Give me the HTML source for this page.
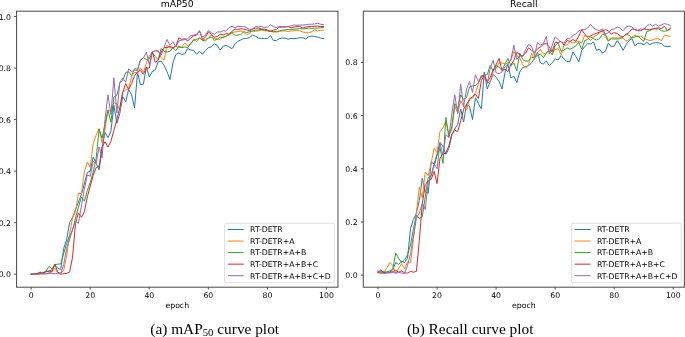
<!DOCTYPE html>
<html><head><meta charset="utf-8"><title>curves</title>
<style>
html,body{margin:0;padding:0;background:#fff;}
body{width:685px;height:337px;position:relative;overflow:hidden;}
.cap{position:absolute;font-family:"Liberation Serif","DejaVu Serif",serif;font-size:15.35px;color:#000;white-space:nowrap;line-height:1;}
.cap sub{font-size:0.7em;vertical-align:baseline;position:relative;top:0.2em;}
</style></head><body>
<svg width="685" height="337" viewBox="0 0 685 337" style="position:absolute;left:0;top:0;will-change:transform">
<clipPath id="c16"><rect x="16.55" y="11.2" width="321.4" height="276.0"/></clipPath>
<g clip-path="url(#c16)" fill="none" stroke-width="1.0" stroke-linejoin="round" stroke-linecap="square">
<polyline stroke="#1f77b4" points="31.20,274.20 34.15,274.20 37.11,273.94 40.06,273.43 43.01,273.17 45.96,271.88 48.92,270.85 51.87,270.08 54.82,265.18 57.78,268.27 60.73,269.56 63.68,248.43 66.64,239.67 69.59,222.66 72.54,217.51 75.49,209.77 78.45,202.04 81.40,194.31 84.35,184.00 87.31,172.41 90.26,171.12 93.21,156.95 96.17,163.39 99.12,169.83 102.07,147.93 105.03,132.46 107.98,137.62 110.93,131.18 113.88,105.41 116.84,123.19 119.79,113.65 122.74,96.64 125.70,101.80 128.65,89.43 131.60,94.84 134.55,107.98 137.51,72.42 140.46,84.79 143.41,84.02 146.37,67.01 149.32,77.06 152.27,71.65 155.23,69.84 158.18,61.86 161.13,61.08 164.08,65.46 167.04,71.65 169.99,79.64 172.94,62.89 175.90,54.38 178.85,53.09 181.80,54.38 184.76,53.87 187.71,48.45 190.66,50.00 193.61,50.26 196.57,54.38 199.52,51.29 202.47,54.38 205.43,50.52 208.38,47.68 211.33,46.91 214.29,43.82 217.24,45.36 220.19,50.00 223.14,46.14 226.10,45.36 229.05,46.91 232.00,48.71 234.96,44.07 237.91,41.24 240.86,39.95 243.82,38.40 246.77,38.40 249.72,37.37 252.67,35.05 255.63,36.34 258.58,38.15 261.53,38.40 264.49,38.66 267.44,38.40 270.39,35.57 273.35,40.47 276.30,40.47 279.25,38.66 282.20,38.15 285.16,38.15 288.11,39.18 291.06,38.40 294.02,38.66 296.97,38.40 299.92,37.63 302.88,37.89 305.83,38.92 308.78,36.60 311.73,36.09 314.69,36.60 317.64,37.12 320.59,38.15 323.55,38.66"/>
<polyline stroke="#ff7f0e" points="31.20,274.20 34.15,274.20 37.11,274.20 40.06,273.94 43.01,273.94 45.96,273.68 48.92,273.17 51.87,271.88 54.82,268.27 57.78,272.65 60.73,272.65 63.68,270.46 66.64,256.16 69.59,234.26 72.54,218.02 75.49,211.84 78.45,193.02 81.40,194.06 84.35,171.89 87.31,162.10 90.26,167.25 93.21,143.55 96.17,135.04 99.12,128.34 102.07,142.77 105.03,129.89 107.98,109.79 110.93,111.85 113.88,102.83 116.84,103.60 119.79,109.79 122.74,92.01 125.70,90.20 128.65,88.66 131.60,76.03 134.55,72.42 137.51,73.19 140.46,68.04 143.41,72.42 146.37,62.89 149.32,55.93 152.27,52.06 155.23,51.03 158.18,50.52 161.13,57.73 164.08,60.31 167.04,45.36 169.99,47.68 172.94,48.45 175.90,46.14 178.85,47.68 181.80,46.91 184.76,43.04 187.71,46.14 190.66,43.82 193.61,39.44 196.57,41.75 199.52,37.89 202.47,40.21 205.43,39.44 208.38,37.89 211.33,35.05 214.29,40.98 217.24,38.66 220.19,39.44 223.14,36.60 226.10,36.60 229.05,34.28 232.00,32.48 234.96,31.96 237.91,31.70 240.86,30.93 243.82,32.48 246.77,34.80 249.72,33.25 252.67,30.93 255.63,31.45 258.58,30.67 261.53,30.16 264.49,30.67 267.44,30.93 270.39,31.19 273.35,31.96 276.30,32.22 279.25,31.45 282.20,30.93 285.16,30.93 288.11,31.70 291.06,30.93 294.02,30.67 296.97,30.16 299.92,30.93 302.88,31.96 305.83,32.74 308.78,32.74 311.73,31.70 314.69,29.90 317.64,30.93 320.59,30.16 323.55,30.16"/>
<polyline stroke="#2ca02c" points="31.20,274.20 34.15,274.20 37.11,273.94 40.06,273.43 43.01,272.65 45.96,271.37 48.92,266.47 51.87,268.79 54.82,264.67 57.78,264.15 60.73,263.89 63.68,253.58 66.64,243.28 69.59,236.06 72.54,230.39 75.49,218.02 78.45,207.20 81.40,196.89 84.35,201.27 87.31,190.45 90.26,182.46 93.21,171.89 96.17,158.23 99.12,129.37 102.07,138.13 105.03,123.45 107.98,110.30 110.93,122.16 113.88,97.16 116.84,95.36 119.79,83.50 122.74,80.41 125.70,72.42 128.65,71.65 131.60,75.77 134.55,68.81 137.51,69.33 140.46,60.31 143.41,57.73 146.37,59.54 149.32,58.76 152.27,52.84 155.23,56.44 158.18,59.79 161.13,48.45 164.08,51.29 167.04,52.06 169.99,51.29 172.94,47.68 175.90,50.52 178.85,46.14 181.80,47.68 184.76,46.91 187.71,47.68 190.66,43.82 193.61,40.21 196.57,39.44 199.52,37.89 202.47,40.21 205.43,40.98 208.38,37.89 211.33,37.12 214.29,38.66 217.24,39.44 220.19,37.12 223.14,37.89 226.10,35.83 229.05,35.05 232.00,32.74 234.96,35.31 237.91,35.05 240.86,34.54 243.82,31.70 246.77,32.48 249.72,31.70 252.67,30.93 255.63,30.16 258.58,29.90 261.53,29.39 264.49,30.16 267.44,30.67 270.39,31.19 273.35,31.70 276.30,31.45 279.25,30.93 282.20,30.16 285.16,29.90 288.11,29.39 291.06,29.39 294.02,29.13 296.97,28.87 299.92,28.61 302.88,28.87 305.83,28.61 308.78,28.10 311.73,28.35 314.69,28.10 317.64,28.10 320.59,27.84 323.55,27.32"/>
<polyline stroke="#d62728" points="31.20,274.20 34.15,274.20 37.11,273.43 40.06,272.14 43.01,273.43 45.96,270.85 48.92,271.88 51.87,271.37 54.82,264.15 57.78,272.14 60.73,274.20 63.68,273.68 66.64,273.43 69.59,272.14 72.54,257.45 75.49,223.43 78.45,212.87 81.40,217.25 84.35,211.84 87.31,196.89 90.26,186.07 93.21,175.24 96.17,167.51 99.12,166.48 102.07,147.15 105.03,141.74 107.98,147.15 110.93,141.23 113.88,130.40 116.84,119.58 119.79,107.73 122.74,92.52 125.70,83.50 128.65,89.43 131.60,83.50 134.55,75.77 137.51,71.65 140.46,70.62 143.41,74.22 146.37,68.04 149.32,68.04 152.27,51.55 155.23,62.37 158.18,60.31 161.13,52.06 164.08,47.42 167.04,47.68 169.99,46.39 172.94,47.68 175.90,46.14 178.85,37.89 181.80,39.44 184.76,38.66 187.71,40.98 190.66,37.89 193.61,35.83 196.57,35.05 199.52,30.67 202.47,39.44 205.43,37.12 208.38,31.96 211.33,34.28 214.29,37.12 217.24,36.60 220.19,34.28 223.14,35.05 226.10,33.51 229.05,34.28 232.00,31.19 234.96,29.13 237.91,29.39 240.86,28.87 243.82,29.13 246.77,29.90 249.72,30.67 252.67,29.13 255.63,28.10 258.58,28.10 261.53,28.87 264.49,29.13 267.44,30.16 270.39,31.19 273.35,30.16 276.30,29.39 279.25,27.32 282.20,27.07 285.16,27.07 288.11,26.55 291.06,27.84 294.02,27.07 296.97,26.55 299.92,26.55 302.88,28.10 305.83,27.07 308.78,26.55 311.73,26.55 314.69,26.29 317.64,26.03 320.59,26.55 323.55,26.55"/>
<polyline stroke="#9467bd" points="31.20,274.20 34.15,274.20 37.11,274.20 40.06,273.94 43.01,273.68 45.96,273.68 48.92,273.43 51.87,273.43 54.82,273.68 57.78,273.68 60.73,273.68 63.68,264.67 66.64,248.43 69.59,239.67 72.54,229.10 75.49,221.37 78.45,223.43 81.40,205.91 84.35,189.16 87.31,174.99 90.26,176.27 93.21,161.33 96.17,163.39 99.12,146.90 102.07,157.72 105.03,119.58 107.98,94.84 110.93,114.43 113.88,77.83 116.84,113.14 119.79,82.21 122.74,78.35 125.70,82.21 128.65,68.81 131.60,71.65 134.55,69.84 137.51,70.62 140.46,59.54 143.41,57.99 146.37,52.06 149.32,64.69 152.27,52.06 155.23,50.52 158.18,51.29 161.13,55.16 164.08,47.68 167.04,39.44 169.99,45.36 172.94,41.75 175.90,46.91 178.85,40.98 181.80,40.21 184.76,39.44 187.71,38.66 190.66,35.83 193.61,35.05 196.57,34.28 199.52,31.19 202.47,37.12 205.43,35.05 208.38,30.67 211.33,32.74 214.29,34.28 217.24,31.96 220.19,31.96 223.14,30.67 226.10,31.19 229.05,27.58 232.00,26.29 234.96,27.84 237.91,26.29 240.86,26.55 243.82,26.55 246.77,27.58 249.72,29.90 252.67,28.61 255.63,26.55 258.58,26.81 261.53,26.55 264.49,27.32 267.44,27.07 270.39,24.75 273.35,26.55 276.30,27.58 279.25,26.55 282.20,26.81 285.16,26.55 288.11,26.55 291.06,25.78 294.02,25.00 296.97,25.26 299.92,25.00 302.88,25.00 305.83,24.75 308.78,24.23 311.73,24.23 314.69,23.97 317.64,23.20 320.59,24.23 323.55,24.75"/>
</g>
<g stroke="#505050" stroke-width="1.05">
<line x1="31.20" y1="287.2" x2="31.20" y2="289.59999999999997"/>
<line x1="90.26" y1="287.2" x2="90.26" y2="289.59999999999997"/>
<line x1="149.32" y1="287.2" x2="149.32" y2="289.59999999999997"/>
<line x1="208.38" y1="287.2" x2="208.38" y2="289.59999999999997"/>
<line x1="267.44" y1="287.2" x2="267.44" y2="289.59999999999997"/>
<line x1="326.50" y1="287.2" x2="326.50" y2="289.59999999999997"/>
<line x1="16.55" y1="274.20" x2="14.15" y2="274.20"/>
<line x1="16.55" y1="222.66" x2="14.15" y2="222.66"/>
<line x1="16.55" y1="171.12" x2="14.15" y2="171.12"/>
<line x1="16.55" y1="119.58" x2="14.15" y2="119.58"/>
<line x1="16.55" y1="68.04" x2="14.15" y2="68.04"/>
<line x1="16.55" y1="16.50" x2="14.15" y2="16.50"/>
</g>
<rect x="16.55" y="11.2" width="321.4" height="276.0" fill="none" stroke="#505050" stroke-width="1.05"/>
<g font-family="DejaVu Sans, Liberation Sans, sans-serif" font-size="7.76" fill="#000">
<text x="31.20" y="297.90" text-anchor="middle">0</text>
<text x="90.26" y="297.90" text-anchor="middle">20</text>
<text x="149.32" y="297.90" text-anchor="middle">40</text>
<text x="208.38" y="297.90" text-anchor="middle">60</text>
<text x="267.44" y="297.90" text-anchor="middle">80</text>
<text x="326.50" y="297.90" text-anchor="middle">100</text>
<text x="10.95" y="277.20" text-anchor="end">0.0</text>
<text x="10.95" y="225.66" text-anchor="end">0.2</text>
<text x="10.95" y="174.12" text-anchor="end">0.4</text>
<text x="10.95" y="122.58" text-anchor="end">0.6</text>
<text x="10.95" y="71.04" text-anchor="end">0.8</text>
<text x="10.95" y="19.50" text-anchor="end">1.0</text>
<text x="177.25" y="308.00" text-anchor="middle">epoch</text>
<text x="177.25" y="6.85" text-anchor="middle" font-size="9.31">mAP50</text>
<rect x="224.6" y="223.2" width="109.8" height="59.5" rx="1.6" fill="#fff" fill-opacity="0.8" stroke="#ccc" stroke-opacity="0.8" stroke-width="0.8"/>
<line x1="227.80" y1="229.50" x2="243.70" y2="229.50" stroke="#1f77b4" stroke-width="1.0"/>
<text x="250.10" y="232.30">RT-DETR</text>
<line x1="227.80" y1="241.05" x2="243.70" y2="241.05" stroke="#ff7f0e" stroke-width="1.0"/>
<text x="250.10" y="243.85">RT-DETR+A</text>
<line x1="227.80" y1="252.60" x2="243.70" y2="252.60" stroke="#2ca02c" stroke-width="1.0"/>
<text x="250.10" y="255.40">RT-DETR+A+B</text>
<line x1="227.80" y1="264.15" x2="243.70" y2="264.15" stroke="#d62728" stroke-width="1.0"/>
<text x="250.10" y="266.95">RT-DETR+A+B+C</text>
<line x1="227.80" y1="275.70" x2="243.70" y2="275.70" stroke="#9467bd" stroke-width="1.0"/>
<text x="250.10" y="278.50">RT-DETR+A+B+C+D</text>
</g>
<clipPath id="c363"><rect x="363.3" y="11.2" width="321.09999999999997" height="276.0"/></clipPath>
<g clip-path="url(#c363)" fill="none" stroke-width="1.0" stroke-linejoin="round" stroke-linecap="square">
<polyline stroke="#1f77b4" points="378.00,271.38 380.95,271.91 383.91,272.44 386.86,272.44 389.81,271.91 392.76,269.78 395.72,262.60 398.67,264.46 401.62,261.01 404.58,262.60 407.53,258.35 410.48,228.83 413.44,219.26 416.39,213.15 419.34,200.65 422.30,178.31 425.25,191.61 428.20,193.47 431.15,162.09 434.11,163.95 437.06,154.12 440.01,142.42 442.97,146.67 445.92,154.38 448.87,148.53 451.82,134.97 454.78,128.86 457.73,124.33 460.68,108.91 463.64,121.94 466.59,104.13 469.54,106.52 472.50,119.55 475.45,97.74 478.40,103.59 481.36,108.91 484.31,71.95 487.26,88.97 490.21,81.52 493.17,74.61 496.12,77.27 499.07,81.52 502.03,88.97 504.98,72.75 507.93,63.98 510.88,78.07 513.84,76.21 516.79,82.59 519.74,71.95 522.70,67.43 525.65,66.63 528.60,65.57 531.56,62.91 534.51,58.39 537.46,52.28 540.41,62.91 543.37,63.98 546.32,61.05 549.27,65.57 552.23,62.91 555.18,58.92 558.13,59.99 561.09,55.47 564.04,58.92 566.99,61.58 569.94,61.58 572.90,52.01 575.85,56.53 578.80,61.85 581.76,50.41 584.71,46.69 587.66,43.77 590.62,44.03 593.57,41.91 596.52,50.41 599.48,49.09 602.43,53.07 605.38,51.21 608.33,43.24 611.29,46.69 614.24,45.89 617.19,40.58 620.15,44.83 623.10,50.41 626.05,44.83 629.00,40.58 631.96,38.71 634.91,45.89 637.86,43.24 640.82,43.24 643.77,44.83 646.72,42.17 649.68,44.83 652.63,43.24 655.58,42.70 658.53,42.70 661.49,43.77 664.44,46.16 667.39,46.69 670.35,46.16"/>
<polyline stroke="#ff7f0e" points="378.00,272.44 380.95,273.77 383.91,271.91 386.86,268.19 389.81,262.34 392.76,265.53 395.72,273.50 398.67,268.19 401.62,263.67 404.58,268.98 407.53,261.81 410.48,262.60 413.44,239.47 416.39,213.15 419.34,187.35 422.30,197.99 425.25,172.20 428.20,175.65 431.15,163.42 434.11,148.27 437.06,152.79 440.01,131.51 442.97,128.06 445.92,120.88 448.87,134.17 451.82,130.18 454.78,106.25 457.73,112.90 460.68,100.67 463.64,106.25 466.59,110.24 469.54,97.74 472.50,98.28 475.45,92.43 478.40,84.18 481.36,74.88 484.31,78.33 487.26,83.39 490.21,81.52 493.17,70.89 496.12,68.23 499.07,62.91 502.03,62.91 504.98,63.98 507.93,62.91 510.88,60.25 513.84,51.48 516.79,55.73 519.74,57.59 522.70,64.77 525.65,68.23 528.60,64.77 531.56,53.07 534.51,59.46 537.46,52.28 540.41,49.62 543.37,54.14 546.32,53.07 549.27,49.62 552.23,52.28 555.18,49.62 558.13,48.55 561.09,54.67 564.04,45.10 566.99,45.10 569.94,41.37 572.90,43.24 575.85,42.17 578.80,41.37 581.76,43.24 584.71,35.26 587.66,37.92 590.62,40.58 593.57,36.85 596.52,35.26 599.48,32.60 602.43,29.67 605.38,36.85 608.33,41.37 611.29,37.92 614.24,37.92 617.19,37.92 620.15,37.92 623.10,37.92 626.05,41.37 629.00,39.51 631.96,36.85 634.91,35.26 637.86,36.85 640.82,36.06 643.77,38.71 646.72,39.51 649.68,40.58 652.63,40.04 655.58,38.71 658.53,38.98 661.49,40.58 664.44,35.26 667.39,35.79 670.35,36.59"/>
<polyline stroke="#2ca02c" points="378.00,272.44 380.95,272.18 383.91,271.91 386.86,271.91 389.81,270.85 392.76,269.25 395.72,253.03 398.67,258.35 401.62,262.60 404.58,259.94 407.53,254.63 410.48,245.05 413.44,228.83 416.39,215.27 419.34,218.46 422.30,216.60 425.25,196.93 428.20,177.51 431.15,175.65 434.11,166.08 437.06,155.45 440.01,147.47 442.97,163.42 445.92,117.42 448.87,137.36 451.82,126.20 454.78,103.59 457.73,108.91 460.68,94.82 463.64,99.61 466.59,97.48 469.54,86.84 472.50,86.05 475.45,85.25 478.40,82.59 481.36,77.00 484.31,75.41 487.26,74.61 490.21,65.57 493.17,70.89 496.12,65.57 499.07,67.43 502.03,70.09 504.98,63.98 507.93,58.39 510.88,65.57 513.84,62.91 516.79,70.89 519.74,53.07 522.70,59.46 525.65,61.05 528.60,61.05 531.56,57.59 534.51,56.80 537.46,55.73 540.41,54.14 543.37,57.59 546.32,53.07 549.27,50.41 552.23,54.93 555.18,45.89 558.13,42.97 561.09,51.21 564.04,50.15 566.99,47.76 569.94,49.35 572.90,47.76 575.85,45.89 578.80,42.17 581.76,49.35 584.71,40.58 587.66,39.51 590.62,36.85 593.57,38.71 596.52,40.04 599.48,38.71 602.43,34.19 605.38,34.19 608.33,40.58 611.29,38.71 614.24,38.98 617.19,38.98 620.15,38.71 623.10,36.85 626.05,34.19 629.00,35.26 631.96,37.92 634.91,36.85 637.86,36.06 640.82,38.71 643.77,41.37 646.72,31.54 649.68,30.74 652.63,28.88 655.58,28.88 658.53,28.88 661.49,30.74 664.44,31.27 667.39,30.74 670.35,28.88"/>
<polyline stroke="#d62728" points="378.00,272.44 380.95,269.78 383.91,272.97 386.86,272.97 389.81,272.44 392.76,271.64 395.72,270.31 398.67,272.18 401.62,270.85 404.58,272.97 407.53,272.97 410.48,271.38 413.44,272.18 416.39,271.38 419.34,240.53 422.30,203.31 425.25,184.69 428.20,180.97 431.15,179.38 434.11,171.40 437.06,183.63 440.01,158.10 442.97,154.12 445.92,152.79 448.87,145.87 451.82,134.17 454.78,130.45 457.73,131.51 460.68,120.88 463.64,109.18 466.59,104.39 469.54,99.61 472.50,96.68 475.45,94.29 478.40,98.54 481.36,80.73 484.31,74.88 487.26,81.79 490.21,77.27 493.17,70.09 496.12,64.77 499.07,58.39 502.03,70.89 504.98,69.03 507.93,71.69 510.88,65.04 513.84,60.25 516.79,52.28 519.74,54.93 522.70,55.73 525.65,53.07 528.60,47.76 531.56,50.41 534.51,52.28 537.46,48.82 540.41,46.96 543.37,44.30 546.32,43.50 549.27,46.96 552.23,51.48 555.18,42.44 558.13,42.44 561.09,41.37 564.04,45.10 566.99,40.58 569.94,41.37 572.90,39.51 575.85,41.37 578.80,36.06 581.76,29.67 584.71,34.19 587.66,36.85 590.62,36.06 593.57,34.19 596.52,33.40 599.48,32.07 602.43,31.54 605.38,29.67 608.33,30.74 611.29,34.19 614.24,32.60 617.19,33.40 620.15,36.06 623.10,36.85 626.05,34.19 629.00,32.60 631.96,28.88 634.91,29.67 637.86,30.74 640.82,30.74 643.77,28.88 646.72,29.67 649.68,29.67 652.63,28.88 655.58,28.34 658.53,27.81 661.49,28.61 664.44,26.48 667.39,30.47 670.35,28.34"/>
<polyline stroke="#9467bd" points="378.00,270.85 380.95,272.18 383.91,273.50 386.86,272.44 389.81,272.97 392.76,272.44 395.72,272.97 398.67,272.44 401.62,272.97 404.58,273.50 407.53,265.53 410.48,253.83 413.44,236.01 416.39,218.46 419.34,213.15 422.30,203.31 425.25,209.42 428.20,182.83 431.15,175.65 434.11,163.42 437.06,168.74 440.01,143.48 442.97,154.91 445.92,134.70 448.87,137.36 451.82,113.70 454.78,94.82 457.73,113.70 460.68,84.18 463.64,106.79 466.59,88.97 469.54,81.52 472.50,92.43 475.45,74.61 478.40,81.52 481.36,76.21 484.31,74.61 487.26,83.39 490.21,68.23 493.17,60.25 496.12,72.75 499.07,73.55 502.03,71.95 504.98,66.63 507.93,63.98 510.88,59.46 513.84,45.10 516.79,59.46 519.74,55.73 522.70,56.80 525.65,49.62 528.60,44.30 531.56,46.16 534.51,55.73 537.46,42.44 540.41,45.10 543.37,43.50 546.32,36.32 549.27,54.14 552.23,45.10 555.18,36.85 558.13,39.51 561.09,42.17 564.04,43.24 566.99,38.71 569.94,38.71 572.90,35.26 575.85,34.19 578.80,30.74 581.76,29.67 584.71,29.67 587.66,28.08 590.62,24.36 593.57,28.08 596.52,29.67 599.48,30.74 602.43,28.88 605.38,34.19 608.33,32.60 611.29,29.67 614.24,28.88 617.19,27.02 620.15,28.08 623.10,30.74 626.05,27.02 629.00,25.95 631.96,27.02 634.91,29.67 637.86,30.21 640.82,28.88 643.77,29.67 646.72,26.22 649.68,24.09 652.63,25.95 655.58,24.36 658.53,25.95 661.49,24.89 664.44,23.56 667.39,24.36 670.35,25.42"/>
</g>
<g stroke="#505050" stroke-width="1.05">
<line x1="378.00" y1="287.2" x2="378.00" y2="289.59999999999997"/>
<line x1="437.06" y1="287.2" x2="437.06" y2="289.59999999999997"/>
<line x1="496.12" y1="287.2" x2="496.12" y2="289.59999999999997"/>
<line x1="555.18" y1="287.2" x2="555.18" y2="289.59999999999997"/>
<line x1="614.24" y1="287.2" x2="614.24" y2="289.59999999999997"/>
<line x1="673.30" y1="287.2" x2="673.30" y2="289.59999999999997"/>
<line x1="363.3" y1="275.10" x2="360.90000000000003" y2="275.10"/>
<line x1="363.3" y1="221.92" x2="360.90000000000003" y2="221.92"/>
<line x1="363.3" y1="168.74" x2="360.90000000000003" y2="168.74"/>
<line x1="363.3" y1="115.56" x2="360.90000000000003" y2="115.56"/>
<line x1="363.3" y1="62.38" x2="360.90000000000003" y2="62.38"/>
</g>
<rect x="363.3" y="11.2" width="321.09999999999997" height="276.0" fill="none" stroke="#505050" stroke-width="1.05"/>
<g font-family="DejaVu Sans, Liberation Sans, sans-serif" font-size="7.76" fill="#000">
<text x="378.00" y="297.90" text-anchor="middle">0</text>
<text x="437.06" y="297.90" text-anchor="middle">20</text>
<text x="496.12" y="297.90" text-anchor="middle">40</text>
<text x="555.18" y="297.90" text-anchor="middle">60</text>
<text x="614.24" y="297.90" text-anchor="middle">80</text>
<text x="673.30" y="297.90" text-anchor="middle">100</text>
<text x="357.70" y="278.10" text-anchor="end">0.0</text>
<text x="357.70" y="224.92" text-anchor="end">0.2</text>
<text x="357.70" y="171.74" text-anchor="end">0.4</text>
<text x="357.70" y="118.56" text-anchor="end">0.6</text>
<text x="357.70" y="65.38" text-anchor="end">0.8</text>
<text x="523.85" y="308.00" text-anchor="middle">epoch</text>
<text x="523.85" y="6.85" text-anchor="middle" font-size="9.31">Recall</text>
<rect x="571.4" y="223.2" width="109.8" height="59.5" rx="1.6" fill="#fff" fill-opacity="0.8" stroke="#ccc" stroke-opacity="0.8" stroke-width="0.8"/>
<line x1="574.60" y1="229.50" x2="590.50" y2="229.50" stroke="#1f77b4" stroke-width="1.0"/>
<text x="596.90" y="232.30">RT-DETR</text>
<line x1="574.60" y1="241.05" x2="590.50" y2="241.05" stroke="#ff7f0e" stroke-width="1.0"/>
<text x="596.90" y="243.85">RT-DETR+A</text>
<line x1="574.60" y1="252.60" x2="590.50" y2="252.60" stroke="#2ca02c" stroke-width="1.0"/>
<text x="596.90" y="255.40">RT-DETR+A+B</text>
<line x1="574.60" y1="264.15" x2="590.50" y2="264.15" stroke="#d62728" stroke-width="1.0"/>
<text x="596.90" y="266.95">RT-DETR+A+B+C</text>
<line x1="574.60" y1="275.70" x2="590.50" y2="275.70" stroke="#9467bd" stroke-width="1.0"/>
<text x="596.90" y="278.50">RT-DETR+A+B+C+D</text>
</g>
</svg>
<div class="cap" id="capa" style="left:150.3px;top:321.3px">(a) mAP<sub>50</sub> curve plot</div>
<div class="cap" id="capb" style="left:406.9px;top:321.3px">(b) Recall curve plot</div>
</body></html>
